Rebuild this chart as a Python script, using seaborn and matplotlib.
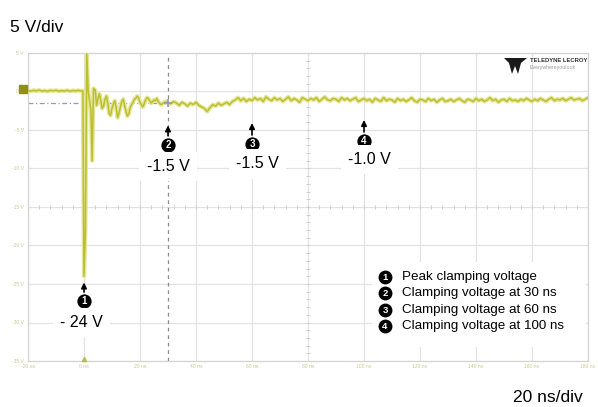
import numpy as np
import pandas as pd
import matplotlib
matplotlib.use("Agg")
import matplotlib.pyplot as plt
import matplotlib.transforms as mtransforms
from matplotlib.patches import Rectangle, Polygon
import seaborn as sns

# ---------------- data ----------------
pre_time = np.arange(-20.0, 0.0, 1.0)
pre_volts = [0.12, 0.05, 0.15, 0.08, 0.18, 0.06, 0.12, 0.02, 0.14, 0.09,
             0.16, 0.04, 0.11, 0.07, 0.15, 0.03, 0.12, 0.08, 0.14, 0.06]

spike_time = [-0.4, 0.0, 0.5, 1.0, 1.5, 2.0, 2.5, 2.9, 3.4]
spike_volts = [0.1, -24.0, -18.0, 4.9, 0.0, -1.2, -2.5, -9.0, 0.4]

ring_time = np.arange(4.0, 30.5, 0.5)
ring_volts = [0.2, -1.8, -0.9, -0.3, -1.2, -2.2, -1.9, -1.0, -0.6, -1.5,
              -2.9, -3.1, -2.2, -1.6, -1.2, -2.1, -3.4, -2.8, -2.0, -1.3,
              -1.0, -1.8, -2.6, -3.2, -2.9, -2.1, -1.7, -1.4, -1.0, -0.9,
              -0.6, -0.8, -1.4, -1.7, -2.0, -1.6, -1.1, -0.8, -0.9, -1.2,
              -1.5, -1.3, -1.1, -1.2, -0.9, -1.3, -1.5, -1.7, -1.6, -1.4,
              -1.5, -1.3, -1.5]

tail_time = np.arange(31.0, 181.0, 1.0)
tail_volts = [-1.6, -1.3, -1.5, -1.8, -1.4, -1.6, -1.9, -1.5, -1.7, -1.4,
              -1.8, -2.0, -2.2, -2.6, -2.1, -1.7, -1.9, -1.5, -1.8, -1.6,
              -1.4, -1.7, -1.3, -1.1, -0.8, -1.2, -0.9, -1.3, -1.0, -1.2,
              -0.8, -1.1, -0.9, -1.3, -0.7, -1.0, -1.2, -0.8, -1.1, -0.9,
              -1.3, -1.0, -0.7, -1.2, -0.9, -1.1, -1.4, -0.8, -1.0, -1.2,
              -0.9, -1.1, -0.8, -1.3, -1.0, -0.7, -1.1, -1.2, -0.9, -1.0,
              -1.3, -0.8, -1.1, -0.9, -1.2, -1.0, -0.8, -1.3, -1.1, -0.9,
              -1.2, -1.0, -1.4, -0.9, -1.1, -1.3, -0.8, -1.2, -1.0, -1.1,
              -1.4, -0.9, -1.2, -1.0, -1.3, -1.1, -0.8, -1.2, -1.4, -1.0,
              -1.1, -1.3, -0.9, -1.2, -1.0, -1.4, -1.1, -0.9, -1.3, -1.2,
              -1.0, -1.3, -1.1, -0.9, -1.2, -1.4, -1.0, -1.1, -1.3, -0.9,
              -1.2, -1.0, -1.3, -1.1, -0.8, -1.2, -1.0, -1.4, -1.1, -1.0,
              -1.3, -0.9, -1.2, -1.1, -1.3, -1.0, -1.2, -0.9, -1.1, -1.3,
              -1.0, -1.2, -0.9, -1.1, -1.3, -1.0, -0.8, -1.2, -1.0, -1.1,
              -0.9, -1.2, -1.0, -0.8, -1.1, -1.0, -0.9, -1.2, -1.0, -0.8]

x_ticks = [-20, 0, 20, 40, 60, 80, 100, 120, 140, 160, 180]
x_tick_labels = ["-20 ns", "0 ns", "20 ns", "40 ns", "60 ns", "80 ns",
                 "100 ns", "120 ns", "140 ns", "160 ns", "180 ns"]
y_ticks = [5, 0, -5, -10, -15, -20, -25, -30, -35]
y_tick_labels = ["5 V", "0 V", "-5 V", "-10 V", "-15 V", "-20 V",
                 "-25 V", "-30 V", "-35 V"]

cursor_time = 30
cursor_volts = -1.5

ann_ids = ["1", "2", "3", "4"]
ann_time = [0, 30, 60, 100]
ann_value_labels = ["- 24 V", "-1.5 V", "-1.5 V", "-1.0 V"]

legend_labels = ["Peak clamping voltage", "Clamping voltage at 30 ns",
                 "Clamping voltage at 60 ns", "Clamping voltage at 100 ns"]

volts_per_div = "5 V/div"
time_per_div = "20 ns/div"

# ---------------- build table ----------------
df = pd.DataFrame({
    "time_ns": np.concatenate([pre_time, spike_time, ring_time, tail_time]),
    "volts": np.concatenate([pre_volts, spike_volts, ring_volts, tail_volts]),
})

# ---------------- style ----------------
sns.set_theme(style="white")
plt.rcParams["font.family"] = ["Liberation Sans", "DejaVu Sans"]

fig = plt.figure(figsize=(5.98, 4.07), dpi=100)
fig.patch.set_facecolor("white")
ax = fig.add_axes([28 / 598, 1 - 361 / 407, 560 / 598, 308 / 407])
ax.set_facecolor("white")

# waveform
sns.lineplot(data=df, x="time_ns", y="volts", ax=ax, color="#e4e69a",
             lw=3.0, estimator=None, sort=False, zorder=3)
sns.lineplot(data=df, x="time_ns", y="volts", ax=ax, color="#bcbf2e",
             lw=1.1, estimator=None, sort=False, zorder=4)

ax.set_xlim(-20, 180)
ax.set_ylim(-35, 5)
ax.set_xticks(x_ticks)
ax.set_xticklabels(x_tick_labels)
ax.set_yticks(y_ticks)
ax.set_yticklabels(y_tick_labels)
ax.tick_params(axis="both", length=0, labelsize=3.6, labelcolor="#c9c98e")
ax.tick_params(axis="x", pad=2.5)
ax.tick_params(axis="y", pad=3)
ax.set_xlabel("")
ax.set_ylabel("")
ax.grid(True, color="#e2e2e2", lw=0.9)
ax.set_axisbelow(True)
for s in ax.spines.values():
    s.set_color("#d4d4d4")
    s.set_linewidth(0.9)

# center crosshair tick marks
cx = np.arange(-20, 180.1, 4)
ax.plot(cx, np.full_like(cx, -15.0), ls="none", marker="|", ms=3,
        mew=0.7, color="#cfcfcf", zorder=1)
cy = np.arange(-35, 5.1, 1)
ax.plot(np.full_like(cy, 80.0), cy, ls="none", marker="_", ms=3,
        mew=0.7, color="#cfcfcf", zorder=1)

# cursor lines
ax.axvline(cursor_time, color="#8a8a8a", lw=0.9, ls=(0, (3, 3)), zorder=2)
ax.plot([-20, cursor_time], [cursor_volts, cursor_volts], color="#9a98b8",
        lw=0.9, ls=(0, (4, 2, 1, 2)), zorder=2)
ax.plot([cursor_time], [cursor_volts], marker="+", ms=6, mew=1.2,
        color="#9a98b8", zorder=5)

# channel marker and trigger marker
trans_y = mtransforms.blended_transform_factory(ax.transAxes, ax.transData)
ax.plot([-0.009], [0.35], marker="s", ms=5.5, color="#8f8f1c",
        transform=trans_y, clip_on=False, zorder=6)
trans_x = mtransforms.blended_transform_factory(ax.transData, ax.transAxes)
ax.plot([0], [0.008], marker="^", ms=3, color="#b8b860",
        transform=trans_x, clip_on=False, zorder=6)

# annotations
circle_v = [-27.2, -6.9, -6.8, -6.4]
tip_v = [-24.8, -4.4, -4.1, -3.7]
label_v = [-30.0, -9.7, -9.4, -8.8]
label_dt = [-1.0, 0.0, 2.0, 2.0]
for k in range(4):
    t = ann_time[k]
    ax.annotate("", xy=(t, tip_v[k]), xytext=(t, circle_v[k] + 1.15),
                arrowprops=dict(arrowstyle="-|>", color="black", lw=1.2,
                                mutation_scale=8, shrinkA=0, shrinkB=0),
                zorder=8)
    ax.scatter([t], [circle_v[k]], s=105, color="black", zorder=9,
               linewidths=0)
    ax.text(t, circle_v[k] - 0.05, ann_ids[k], color="white", fontsize=7,
            fontweight="bold", ha="center", va="center", zorder=10)
    ax.text(t + label_dt[k], label_v[k], ann_value_labels[k], fontsize=11.5,
            color="black", ha="center", va="center", zorder=10,
            bbox=dict(boxstyle="square,pad=0.45", fc="white", ec="none"))

# legend box
ax.add_patch(Rectangle((0.614, 0.045), 0.383, 0.277, transform=ax.transAxes,
                       fc="white", ec="none", zorder=7))
leg_y = [0.2727, 0.2208, 0.1656, 0.1136]
for k in range(4):
    ax.scatter([0.6375], [leg_y[k]], s=100, color="black",
               transform=ax.transAxes, zorder=9, linewidths=0)
    ax.text(0.6375, leg_y[k] - 0.002, ann_ids[k], transform=ax.transAxes,
            color="white", fontsize=6.8, fontweight="bold", ha="center",
            va="center", zorder=10)
    ax.text(0.668, leg_y[k], legend_labels[k], transform=ax.transAxes,
            fontsize=9.6, color="black", ha="left", va="center", zorder=10)

# logo (approximate)
logo = Polygon([[504, 58], [527, 58], [521, 63], [518, 74], [515, 66],
                [512, 74], [509, 63]], closed=True, fc="#1a1a1a", ec="none")
logo.set_transform(mtransforms.Affine2D().scale(1, -1).translate(0, 407))
fig.add_artist(logo)
fig.text(530 / 598, 1 - 61 / 407, "TELEDYNE LECROY", fontsize=4.2,
         fontweight="bold", color="#333333", ha="left", va="center")
fig.text(530 / 598, 1 - 68 / 407, "Everywhereyoulook", fontsize=3.8,
         color="#9a9a9a", ha="left", va="center")

# division texts
fig.text(10 / 598, 1 - 28 / 407, volts_per_div, fontsize=12.5, color="black",
         ha="left", va="center")
fig.text(583 / 598, 1 - 397 / 407, time_per_div, fontsize=12.5,
         color="black", ha="right", va="center")

fig.savefig("out.png", dpi=100, facecolor="white")
